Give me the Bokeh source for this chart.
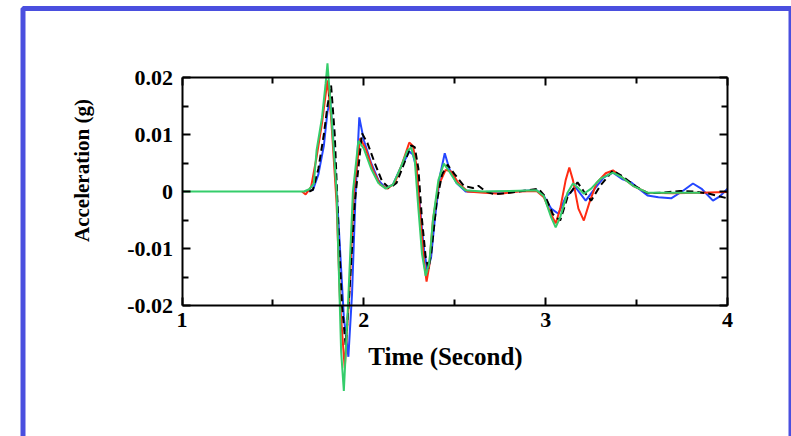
from bokeh.plotting import figure
from bokeh.models import Range1d, LinearAxis, FixedTicker, BoxAnnotation
from bokeh.embed import file_html
from bokeh.resources import INLINE

# ---------------- data ----------------
x_ticks = [1, 2, 3, 4]
x_tick_labels = ["1", "2", "3", "4"]
x_minor_ticks = [1.5, 2.5, 3.5]
y_ticks = [-0.02, -0.01, 0, 0.01, 0.02]
y_tick_labels = ["-0.02", "-0.01", "0", "0.01", "0.02"]
y_minor_ticks = [-0.015, -0.005, 0.005, 0.015]

x_title = "Time (Second)"
y_title = "Acceleration (g)"

green_t = [1.00, 1.67, 1.70, 1.725, 1.74, 1.77, 1.79, 1.80, 1.82, 1.85, 1.875, 1.89,
           1.91, 1.94, 1.97, 2.00, 2.04, 2.08, 2.12, 2.16, 2.20, 2.24, 2.26, 2.28,
           2.30, 2.32, 2.34, 2.36, 2.38, 2.41, 2.44, 2.47, 2.51, 2.56, 2.65, 2.80,
           2.95, 2.99, 3.03, 3.055, 3.08, 3.12, 3.15, 3.18, 3.21, 3.25, 3.30, 3.37,
           3.42, 3.48, 3.56, 3.70, 3.85]
green_a = [0.0, 0.0, 0.0004, 0.0014, 0.0072, 0.013, 0.019, 0.0225, 0.014, 0.0, -0.028, -0.035,
           -0.022, 0.0, 0.0089, 0.0075, 0.004, 0.0015, 0.0005, 0.0012, 0.004, 0.0072, 0.0077, 0.0055,
           -0.003, -0.011, -0.0148, -0.0125, -0.005, 0.002, 0.0049, 0.0035, 0.0015, 0.0002, 0.0, 0.0001,
           0.0002, -0.0008, -0.0045, -0.0063, -0.0045, -0.0002, 0.0014, 0.0006, -0.0004, 0.0005, 0.0022, 0.0033,
           0.0025, 0.0010, -0.0002, -0.0002, -0.0002]

red_t = [1.66, 1.68, 1.71, 1.74, 1.77, 1.80, 1.82, 1.85, 1.87, 1.895, 1.92, 1.945,
         1.98, 2.01, 2.05, 2.09, 2.13, 2.17, 2.21, 2.25, 2.27, 2.29, 2.31, 2.33,
         2.345, 2.36, 2.38, 2.41, 2.45, 2.48, 2.52, 2.57, 2.66, 2.75, 2.85, 2.95,
         2.99, 3.03, 3.055, 3.08, 3.11, 3.13, 3.15, 3.18, 3.21, 3.24, 3.28, 3.33,
         3.37, 3.42, 3.48, 3.56, 3.70, 3.85, 4.00]
red_a = [0.0, -0.0005, 0.0008, 0.006, 0.012, 0.0195, 0.013, -0.002, -0.020, -0.031, -0.018, 0.0,
         0.0093, 0.0075, 0.0038, 0.0012, 0.0005, 0.0015, 0.0048, 0.0086, 0.0080, 0.0045, -0.004, -0.012,
         -0.0158, -0.013, -0.005, 0.001, 0.0038, 0.0035, 0.0015, 0.0, -0.0002, -0.0004, 0.0, 0.0001,
         -0.001, -0.004, -0.0056, -0.003, 0.002, 0.0042, 0.002, -0.003, -0.0051, -0.002, 0.0015, 0.0032,
         0.0037, 0.0025, 0.0010, -0.0002, -0.0003, -0.0002, -0.0001]

black_t = [1.70, 1.72, 1.75, 1.78, 1.80, 1.82, 1.84, 1.86, 1.88, 1.90, 1.92, 1.95,
           1.99, 2.02, 2.06, 2.10, 2.14, 2.18, 2.22, 2.26, 2.28, 2.30, 2.32, 2.34,
           2.355, 2.37, 2.40, 2.43, 2.46, 2.50, 2.55, 2.60, 2.63, 2.67, 2.72, 2.78,
           2.85, 2.96, 3.00, 3.04, 3.08, 3.12, 3.175, 3.21, 3.25, 3.30, 3.37, 3.43,
           3.50, 3.56, 3.65, 3.74, 3.82, 3.90, 4.00]
black_a = [0.0, 0.0003, 0.004, 0.010, 0.015, 0.0186, 0.010, -0.006, -0.020, -0.027, -0.018, -0.002,
           0.0102, 0.0085, 0.005, 0.0018, 0.0006, 0.0015, 0.0048, 0.0081, 0.0078, 0.004, -0.005, -0.0115,
           -0.0135, -0.011, -0.002, 0.003, 0.0047, 0.003, 0.001, 0.0006, 0.001, 0.0, -0.0005, -0.0003,
           0.0, 0.0005, -0.001, -0.004, -0.0051, -0.001, 0.0016, 0.0, -0.0016, 0.001, 0.0037, 0.0025,
           0.0008, -0.0003, -0.0002, 0.0001, 0.0, -0.0004, -0.0012]

blue_t = [1.68, 1.72, 1.75, 1.78, 1.80, 1.815, 1.83, 1.86, 1.89, 1.915, 1.935, 1.955,
          1.975, 2.00, 2.04, 2.08, 2.12, 2.16, 2.20, 2.25, 2.27, 2.29, 2.31, 2.33,
          2.35, 2.37, 2.39, 2.42, 2.445, 2.47, 2.51, 2.56, 2.66, 2.80, 2.95, 2.99,
          3.03, 3.07, 3.11, 3.165, 3.22, 3.27, 3.32, 3.37, 3.42, 3.47, 3.50, 3.56,
          3.62, 3.69, 3.75, 3.81, 3.86, 3.92, 3.96, 4.00]
blue_a = [0.0, 0.0003, 0.003, 0.008, 0.014, 0.016, 0.010, -0.005, -0.022, -0.029, -0.018, 0.0,
          0.013, 0.009, 0.005, 0.002, 0.0006, 0.0012, 0.004, 0.0070, 0.0065, 0.004, -0.003, -0.010,
          -0.014, -0.0115, -0.005, 0.003, 0.0067, 0.004, 0.0015, 0.0, -0.0001, 0.0, 0.0002, -0.0008,
          -0.003, -0.0039, -0.001, 0.0007, -0.0016, 0.0005, 0.0025, 0.0033, 0.0022, 0.0016, 0.0008, -0.0007,
          -0.0010, -0.0012, 0.0, 0.0014, 0.0004, -0.0016, -0.0008, 0.0005]

# ---------------- figure ----------------
FONT = "Liberation Serif"

p = figure(width=791, height=436, output_backend="svg", toolbar_location=None,
           x_range=Range1d(0.00181, 4.35197), y_range=Range1d(-0.042982, 0.033509),
           x_axis_location=None, y_axis_location=None,
           min_border_left=0, min_border_right=0, min_border_top=0, min_border_bottom=0)
p.title.visible = False
p.outline_line_color = None
p.grid.visible = False
p.xgrid.grid_line_color = None
p.ygrid.grid_line_color = None
p.background_fill_color = "white"
p.border_fill_color = "white"


def style_axis(ax, show_labels):
    ax.axis_line_color = "black"
    ax.axis_line_width = 2
    ax.major_tick_line_color = "black"
    ax.major_tick_line_width = 2
    ax.minor_tick_line_color = "black"
    ax.minor_tick_line_width = 2
    ax.major_tick_in = 8
    ax.major_tick_out = 0
    ax.minor_tick_in = 6
    ax.minor_tick_out = 0
    ax.major_label_text_font = FONT
    ax.major_label_text_font_style = "bold"
    ax.major_label_text_font_size = "22px"
    ax.major_label_text_color = "black" if show_labels else None


x_box_ticker = FixedTicker(ticks=x_ticks, minor_ticks=x_minor_ticks)
y_box_ticker = FixedTicker(ticks=y_ticks, minor_ticks=y_minor_ticks)
x_bounds = (x_ticks[0], x_ticks[-1])
y_bounds = (y_ticks[0], y_ticks[-1])

xb = LinearAxis(fixed_location=y_ticks[0], bounds=x_bounds, ticker=x_box_ticker,
                major_label_overrides=dict(zip(x_ticks, x_tick_labels)))
style_axis(xb, True)
xb.major_label_standoff = 7
p.add_layout(xb, "below")

xt = LinearAxis(fixed_location=y_ticks[-1], bounds=x_bounds, ticker=x_box_ticker)
style_axis(xt, False)
p.add_layout(xt, "above")

yl = LinearAxis(fixed_location=x_ticks[0], bounds=y_bounds, ticker=y_box_ticker,
                major_label_overrides=dict(zip(y_ticks, y_tick_labels)))
style_axis(yl, True)
yl.major_label_standoff = 9
p.add_layout(yl, "left")

yr = LinearAxis(fixed_location=x_ticks[-1], bounds=y_bounds, ticker=y_box_ticker)
style_axis(yr, False)
p.add_layout(yr, "right")


def title_axis(ax, text, size, standoff):
    ax.ticker = FixedTicker(ticks=[])
    ax.axis_line_color = None
    ax.major_tick_line_color = None
    ax.minor_tick_line_color = None
    ax.major_tick_in = 0
    ax.major_tick_out = 0
    ax.minor_tick_in = 0
    ax.minor_tick_out = 0
    ax.axis_label = text
    ax.axis_label_text_font = FONT
    ax.axis_label_text_font_style = "bold"
    ax.axis_label_text_font_size = size
    ax.axis_label_text_color = "black"
    ax.axis_label_standoff = standoff


# label-only axes (positioned like the titles in the reference)
xlab = LinearAxis(fixed_location=y_ticks[0], bounds=(1.0, 3.898))
title_axis(xlab, x_title, "25px", 37)
p.add_layout(xlab, "below")

ylab = LinearAxis(fixed_location=x_ticks[0], bounds=(-0.0163, 0.0237))
title_axis(ylab, y_title, "21px", 89)
p.add_layout(ylab, "left")

# blue page border (top, left, right)
border = BoxAnnotation(left=22.5, right=790.5, top=8, bottom=1000,
                       left_units="canvas", right_units="canvas",
                       top_units="canvas", bottom_units="canvas",
                       fill_color=None, fill_alpha=0, line_color="#4a4fdf",
                       line_alpha=1.0, line_width=5)
p.add_layout(border)

# series
p.line(blue_t, blue_a, line_color="#2446ff", line_width=2)
p.line(red_t, red_a, line_color="#ff2b12", line_width=2)
p.line(black_t, black_a, line_color="black", line_width=2, line_dash="7 4")
p.line(green_t, green_a, line_color="#35cd6b", line_width=2)

open("out.html", "w").write(file_html(p, INLINE))
